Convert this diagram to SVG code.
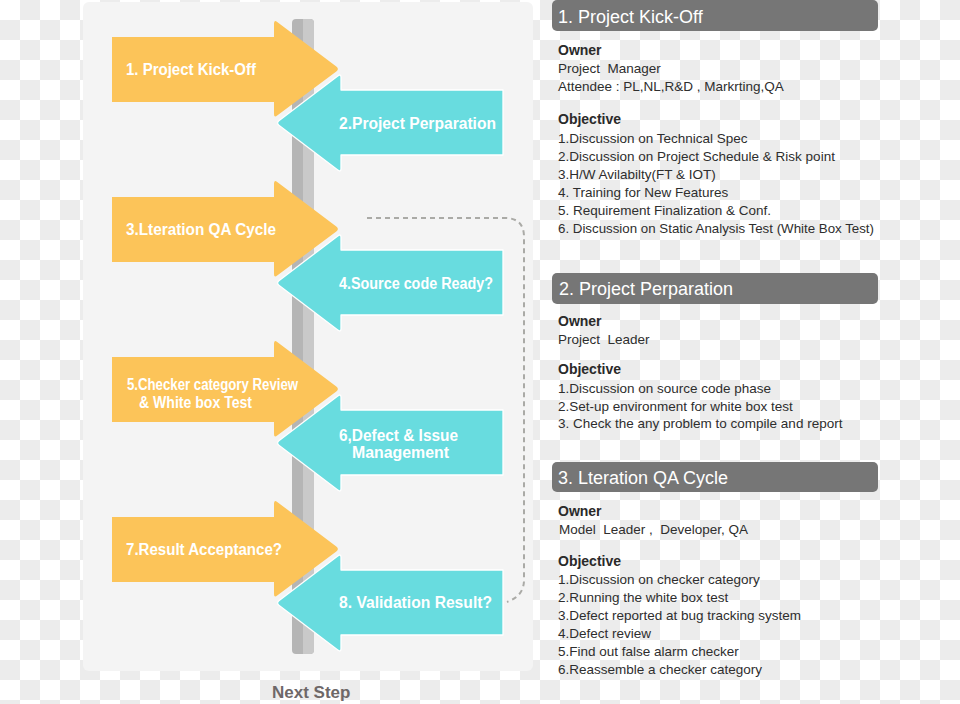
<svg xmlns="http://www.w3.org/2000/svg" width="960" height="704" viewBox="0 0 960 704">
<defs>
<pattern id="chk" x="0" y="0" width="40" height="40" patternUnits="userSpaceOnUse">
<rect width="40" height="40" fill="#ffffff"/>
<rect x="20" y="0" width="20" height="20" fill="#ececec"/>
<rect x="0" y="20" width="20" height="20" fill="#ececec"/>
</pattern>
<path id="yArrow" d="M112,37 H274 V23.5 Q274,19.5 277.2,21.9 L336.3,66.6 Q339.5,69 336.3,71.4 L277.2,115.6 Q274,118 274,114 V102 H112 Z"/>
<path id="cArrow" d="M503,90 H341 V77.5 Q341,73.5 337.8,75.9 L279.2,120.6 Q276,123 279.2,125.4 L337.8,170.1 Q341,172.5 341,168.5 V155 H503 Z"/>
</defs>
<style>
.yel{fill:#fcc459}
.cya{fill:#68dcdf;stroke:#ffffff;stroke-width:1.3;stroke-linejoin:round}
.al{font-family:"Liberation Sans",Arial,sans-serif;font-weight:bold;font-size:16px;fill:#ffffff}
.hd{fill:#767676}
.ht{font-family:"Liberation Sans",Arial,sans-serif;font-size:18px;fill:#ffffff}
.lb{font-family:"Liberation Sans",Arial,sans-serif;font-weight:bold;font-size:14px;fill:#2a2a2a}
.tx{font-family:"Liberation Sans",Arial,sans-serif;font-size:13.5px;fill:#2e2e2e}
.dash{fill:none;stroke:#aaaaa6;stroke-width:2;stroke-dasharray:5 4}
</style>
<rect width="960" height="704" fill="url(#chk)"/>
<rect x="83" y="2" width="450" height="669" rx="6" fill="#f4f4f4"/>
<g id="timeline-bar">
<rect x="292" y="19" width="22" height="635" rx="4" fill="#b5b5b5"/>
<rect x="303" y="19" width="11" height="635" rx="4" fill="#c9c9c9"/>
<rect x="303" y="19" width="5" height="635" fill="#c9c9c9"/>
</g>
<g id="connectors">
<path class="dash" d="M367,218 H505 Q524,218 524,237 V580 Q524,596 507,602"/>
</g>
<g id="step1">
<use href="#yArrow" class="yel"/>
<text class="al" x="126" y="75" textLength="130" lengthAdjust="spacingAndGlyphs">1. Project Kick-Off</text>
</g>
<g id="step2">
<use href="#cArrow" class="cya"/>
<text class="al" x="339" y="129" textLength="157" lengthAdjust="spacingAndGlyphs">2.Project Perparation</text>
</g>
<g id="step3">
<use href="#yArrow" class="yel" transform="translate(0,160)"/>
<text class="al" x="126" y="235" textLength="150" lengthAdjust="spacingAndGlyphs">3.Lteration QA Cycle</text>
</g>
<g id="step4">
<use href="#cArrow" class="cya" transform="translate(0,160)"/>
<text class="al" x="339" y="289" textLength="154" lengthAdjust="spacingAndGlyphs">4.Source code Ready?</text>
</g>
<g id="step5">
<use href="#yArrow" class="yel" transform="translate(0,320)"/>
<text class="al" x="127" y="390" textLength="171" lengthAdjust="spacingAndGlyphs">5.Checker category Review</text>
<text class="al" x="139" y="408" textLength="113" lengthAdjust="spacingAndGlyphs">&amp; White box Test</text>
</g>
<g id="step6">
<use href="#cArrow" class="cya" transform="translate(0,320)"/>
<text class="al" x="339" y="441" textLength="119" lengthAdjust="spacingAndGlyphs">6,Defect &amp; Issue</text>
<text class="al" x="352" y="458" textLength="97" lengthAdjust="spacingAndGlyphs">Management</text>
</g>
<g id="step7">
<use href="#yArrow" class="yel" transform="translate(0,480)"/>
<text class="al" x="126" y="555" textLength="156" lengthAdjust="spacingAndGlyphs">7.Result Acceptance?</text>
</g>
<g id="step8">
<use href="#cArrow" class="cya" transform="translate(0,480)"/>
<text class="al" x="339" y="608" textLength="153" lengthAdjust="spacingAndGlyphs">8. Validation Result?</text>
</g>
<g id="next-step">
<text x="272" y="698" font-family="Liberation Sans, Arial, sans-serif" font-weight="bold" font-size="17px" fill="#6e6868">Next Step</text>
</g>
<g id="detail1">
<rect class="hd" x="552" y="0" width="326" height="31" rx="5"/>
<text class="ht" x="558" y="22.5">1. Project Kick-Off</text>
<text class="lb" x="558" y="55">Owner</text>
<text class="tx" x="558" y="73">Project&#160; Manager</text>
<text class="tx" x="558" y="91">Attendee : PL,NL,R&amp;D , Markrting,QA</text>
<text class="lb" x="558" y="124">Objective</text>
<text class="tx" x="558" y="143">1.Discussion on Technical Spec</text>
<text class="tx" x="558" y="161">2.Discussion on Project Schedule &amp; Risk point</text>
<text class="tx" x="558" y="179">3.H/W Avilabilty(FT &amp; IOT)</text>
<text class="tx" x="558" y="197">4. Training for New Features</text>
<text class="tx" x="558" y="215">5. Requirement Finalization &amp; Conf.</text>
<text class="tx" x="558" y="233" textLength="316" lengthAdjust="spacingAndGlyphs">6. Discussion on Static Analysis Test (White Box Test)</text>
</g>
<g id="detail2">
<rect class="hd" x="552" y="273" width="326" height="31" rx="5"/>
<text class="ht" x="559" y="295">2. Project Perparation</text>
<text class="lb" x="558" y="326">Owner</text>
<text class="tx" x="558" y="344">Project&#160; Leader</text>
<text class="lb" x="558" y="374">Objective</text>
<text class="tx" x="558" y="393">1.Discussion on source code phase</text>
<text class="tx" x="558" y="411">2.Set-up environment for white box test</text>
<text class="tx" x="558" y="428">3. Check the any problem to compile and report</text>
</g>
<g id="detail3">
<rect class="hd" x="552" y="462" width="326" height="30" rx="5"/>
<text class="ht" x="558" y="483.5">3. Lteration QA Cycle</text>
<text class="lb" x="558" y="516">Owner</text>
<text class="tx" x="559" y="534">Model&#160; Leader ,&#160; Developer, QA</text>
<text class="lb" x="558" y="566">Objective</text>
<text class="tx" x="558" y="584">1.Discussion on checker category</text>
<text class="tx" x="558" y="602">2.Running the white box test</text>
<text class="tx" x="558" y="620">3.Defect reported at bug tracking system</text>
<text class="tx" x="558" y="638">4.Defect review</text>
<text class="tx" x="558" y="656">5.Find out false alarm checker</text>
<text class="tx" x="558" y="674">6.Reassemble a checker category</text>
</g>
</svg>
